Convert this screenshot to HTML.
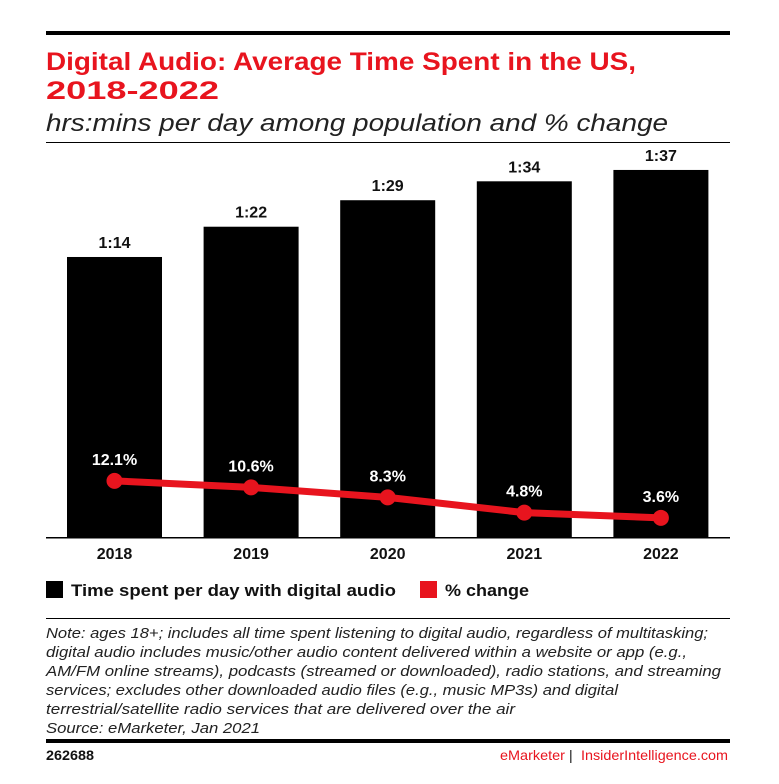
<!DOCTYPE html>
<html><head><meta charset="utf-8"><style>
html,body{margin:0;padding:0;background:#fff;}
svg{display:block;font-family:"Liberation Sans",Arial,sans-serif;}
</style></head><body>
<svg id="chart" width="779" height="784" viewBox="0 0 779 784">
<rect x="46" y="31" width="684" height="4" fill="#000"/>
<text x="46" y="70" font-size="25" font-weight="bold" fill="#e8141e" textLength="590" lengthAdjust="spacingAndGlyphs">Digital Audio: Average Time Spent in the US,</text>
<text x="46" y="99" font-size="25" font-weight="bold" fill="#e8141e" textLength="173" lengthAdjust="spacingAndGlyphs">2018-2022</text>
<text x="46" y="131" font-size="24" font-style="italic" fill="#222" textLength="622" lengthAdjust="spacingAndGlyphs">hrs:mins per day among population and % change</text>
<rect x="46" y="142" width="684" height="1" fill="#000"/>
<g id="bars"></g>
<g id="line"></g>
<rect x="46" y="537" width="684" height="1.5" fill="#000"/>
<g id="xlabels"></g>
<rect x="46" y="581" width="17" height="17" fill="#000"/>
<text x="71" y="596" font-size="17" font-weight="bold" fill="#111" textLength="325" lengthAdjust="spacingAndGlyphs">Time spent per day with digital audio</text>
<rect x="420" y="581" width="17" height="17" fill="#e8141e"/>
<text x="445" y="596" font-size="17" font-weight="bold" fill="#111" textLength="84" lengthAdjust="spacingAndGlyphs">% change</text>
<rect x="46" y="618" width="684" height="1" fill="#000"/>
<g font-size="15" font-style="italic" fill="#222">
<text x="46" y="638" textLength="662" lengthAdjust="spacingAndGlyphs">Note: ages 18+; includes all time spent listening to digital audio, regardless of multitasking;</text>
<text x="46" y="657" textLength="641" lengthAdjust="spacingAndGlyphs">digital audio includes music/other audio content delivered within a website or app (e.g.,</text>
<text x="46" y="676" textLength="675" lengthAdjust="spacingAndGlyphs">AM/FM online streams), podcasts (streamed or downloaded), radio stations, and streaming</text>
<text x="46" y="695" textLength="572" lengthAdjust="spacingAndGlyphs">services; excludes other downloaded audio files (e.g., music MP3s) and digital</text>
<text x="46" y="714" textLength="469" lengthAdjust="spacingAndGlyphs">terrestrial/satellite radio services that are delivered over the air</text>
<text x="46" y="733" textLength="214" lengthAdjust="spacingAndGlyphs">Source: eMarketer, Jan 2021</text>
</g>
<rect x="46" y="739" width="684" height="4" fill="#000"/>
<text x="46" y="760" font-size="14" font-weight="bold" fill="#111" textLength="48" lengthAdjust="spacingAndGlyphs">262688</text>
<text x="500" y="760" font-size="14" fill="#e8141e" textLength="65" lengthAdjust="spacingAndGlyphs">eMarketer</text>
<text x="569" y="760" font-size="14" fill="#111">|</text>
<text x="581" y="760" font-size="14" fill="#e8141e" textLength="147" lengthAdjust="spacingAndGlyphs">InsiderIntelligence.com</text>
</svg>
<script>
const years = ["2018","2019","2020","2021","2022"];
const minutes = [74, 82, 89, 94, 97];
const timeLabels = ["1:14","1:22","1:29","1:34","1:37"];
const pctChange = [12.1, 10.6, 8.3, 4.8, 3.6];
const pctLabels = ["12.1%","10.6%","8.3%","4.8%","3.6%"];

const NS = "http://www.w3.org/2000/svg";
const baseY = 537;
const yBar = v => baseY - v * 3.784;
const yPct = v => 533.5 - v * 4.35;
const xCenter = i => 114.5 + i * 136.6;
const barW = 95;
function mk(tag, attrs, parent){const e=document.createElementNS(NS,tag);for(const k in attrs)e.setAttribute(k,attrs[k]);parent.appendChild(e);return e;}
const gB=document.getElementById('bars'), gL=document.getElementById('line'), gX=document.getElementById('xlabels');
years.forEach((y,i)=>{
  const r=mk('rect',{x:xCenter(i)-barW/2,y:yBar(minutes[i]),width:barW,height:baseY-yBar(minutes[i]),fill:'#000'},gB);
  
  
  const t=mk('text',{x:xCenter(i),y:yBar(minutes[i])-9,'font-size':16,'font-weight':'bold','text-anchor':'middle',fill:'#111'},gB);
  t.textContent=timeLabels[i];
  
  
  const xl=mk('text',{x:xCenter(i),y:559,'font-size':16,'font-weight':'bold','text-anchor':'middle',fill:'#111'},gX);
  xl.textContent=y;
  
  
});
const pts=pctChange.map((v,i)=>xCenter(i)+','+yPct(v)).join(' ');
const pl=mk('polyline',{points:pts,fill:'none',stroke:'#e8141e','stroke-width':7,'stroke-linejoin':'round'},gL);


pctChange.forEach((v,i)=>{
  const c=mk('circle',{cx:xCenter(i),cy:yPct(v),r:8,fill:'#e8141e'},gL);
  
  
  const t=mk('text',{x:xCenter(i),y:yPct(v)-16,'font-size':16,'font-weight':'bold','text-anchor':'middle',fill:'#fff'},gL);
  t.textContent=pctLabels[i];
  
  
});
</script>
</body></html>
